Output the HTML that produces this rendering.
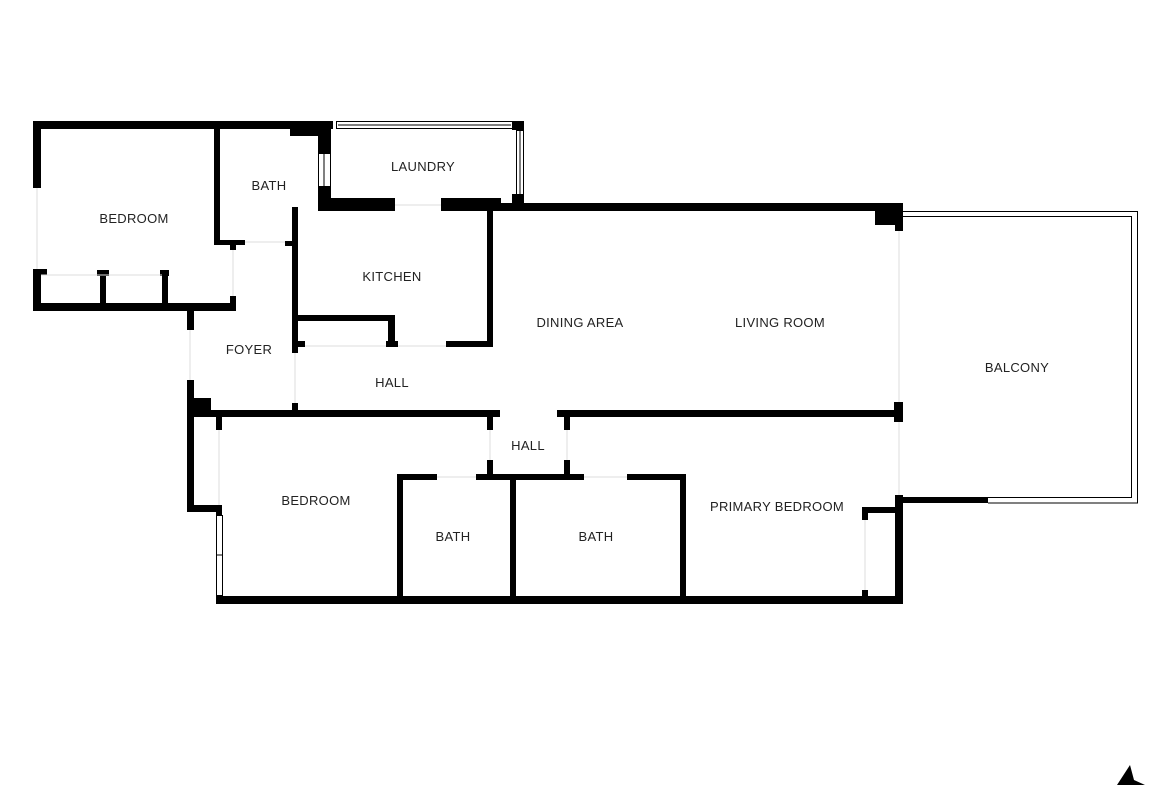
<!DOCTYPE html>
<html><head><meta charset="utf-8"><style>
html,body{margin:0;padding:0;background:#fff}
svg text{font-family:"Liberation Sans",sans-serif;font-size:13px;fill:#222;text-anchor:middle;letter-spacing:0.3px}
</style></head><body>
<svg width="1170" height="785" viewBox="0 0 1170 785" xmlns="http://www.w3.org/2000/svg">
<g fill="#000">
<!-- top-left bedroom -->
<rect x="33" y="121" width="300" height="8"/>
<rect x="33" y="121" width="8" height="67"/>
<rect x="33" y="269" width="8" height="42"/>
<rect x="33" y="303" width="203" height="8"/>
<rect x="33" y="269" width="14" height="6"/>
<rect x="100" y="270" width="6" height="33"/><rect x="97" y="270" width="12" height="6"/>
<rect x="162" y="270" width="6" height="33"/><rect x="160" y="270" width="9" height="6"/>
<rect x="230" y="296" width="6" height="15"/>
<!-- bath -->
<rect x="214" y="129" width="6" height="116"/>
<rect x="214" y="240" width="31" height="5"/>
<rect x="230" y="240" width="6" height="10"/>
<rect x="290" y="129" width="28" height="7"/>
<rect x="318" y="121" width="13" height="32"/>
<rect x="318" y="186" width="13" height="24"/>
<rect x="285" y="241" width="13" height="5"/>
<!-- laundry -->
<rect x="512" y="121" width="12" height="9"/>
<rect x="512" y="194" width="12" height="10"/>
<rect x="318" y="198" width="77" height="13"/>
<rect x="441" y="198" width="60" height="13"/>
<rect x="441" y="203" width="462" height="8"/>
<!-- kitchen -->
<rect x="292" y="207" width="6" height="146"/>
<rect x="292" y="315" width="103" height="6"/>
<rect x="388" y="315" width="7" height="32"/><rect x="386" y="341" width="12" height="6"/>
<rect x="292" y="341" width="13" height="6"/>
<rect x="487" y="207" width="6" height="140"/>
<rect x="446" y="341" width="47" height="6"/>
<!-- right corner -->
<rect x="875" y="203" width="28" height="22"/>
<rect x="895" y="203" width="8" height="28"/>
<rect x="894" y="402" width="9" height="20"/>
<rect x="895" y="495" width="8" height="109"/>
<rect x="903" y="497" width="85" height="6"/>
<!-- foyer -->
<rect x="187" y="311" width="7" height="19"/>
<rect x="187" y="380" width="7" height="132"/>
<rect x="187" y="398" width="24" height="17"/>
<rect x="187" y="505" width="35" height="7"/>
<rect x="292" y="403" width="6" height="10"/>
<!-- hall wall -->
<rect x="194" y="410" width="306" height="7"/>
<rect x="557" y="410" width="346" height="7"/>
<rect x="487" y="410" width="6" height="20"/>
<rect x="564" y="410" width="6" height="20"/>
<rect x="487" y="460" width="6" height="20"/>
<rect x="564" y="460" width="6" height="20"/>
<!-- lower bedroom -->
<rect x="216" y="417" width="6" height="13"/>
<rect x="216" y="505" width="6" height="10"/>
<rect x="216" y="596" width="687" height="8"/>
<!-- baths -->
<rect x="397" y="474" width="6" height="126"/>
<rect x="397" y="474" width="40" height="6"/>
<rect x="476" y="474" width="108" height="6"/>
<rect x="627" y="474" width="59" height="6"/>
<rect x="510" y="474" width="6" height="126"/>
<rect x="680" y="474" width="6" height="126"/>
<!-- closet -->
<rect x="862" y="507" width="41" height="6"/>
<rect x="862" y="507" width="6" height="13"/>
<rect x="862" y="590" width="6" height="10"/>
</g>
<g fill="none" stroke="#000" stroke-width="1">
<rect x="336.5" y="121.5" width="176" height="7"/>
<line x1="338" y1="125" x2="511" y2="125"/>
<rect x="516.5" y="130.5" width="7" height="64"/>
<line x1="520" y1="131" x2="520" y2="194"/>
<rect x="318.5" y="153.5" width="12" height="33"/>
<line x1="324" y1="154" x2="324" y2="186"/>
<rect x="216.5" y="515.5" width="6" height="80"/>
<line x1="216" y1="555" x2="222" y2="555"/>
<polyline points="903,211.5 1137.5,211.5 1137.5,503 988,503"/>
<polyline points="903,216.5 1131.5,216.5 1131.5,497.5 988,497.5"/>
</g>
<g stroke="#ddd" stroke-width="1">
<line x1="37" y1="188" x2="37" y2="269"/>
<line x1="899" y1="231" x2="899" y2="402"/>
<line x1="899" y1="422" x2="899" y2="495"/>
<line x1="190" y1="330" x2="190" y2="380"/>
<line x1="233" y1="250" x2="233" y2="296"/>
<line x1="245" y1="242" x2="285" y2="242"/>
<line x1="395" y1="205" x2="441" y2="205"/>
<line x1="305" y1="346" x2="386" y2="346"/>
<line x1="398" y1="346" x2="446" y2="346"/>
<line x1="41" y1="275" x2="162" y2="275"/>
<line x1="437" y1="477" x2="476" y2="477"/>
<line x1="584" y1="477" x2="627" y2="477"/>
<line x1="219" y1="430" x2="219" y2="505"/>
<line x1="865" y1="520" x2="865" y2="590"/>
<line x1="295" y1="353" x2="295" y2="403"/>
<line x1="490" y1="430" x2="490" y2="460"/>
<line x1="567" y1="430" x2="567" y2="460"/>
</g>
<text x="134" y="223">BEDROOM</text>
<text x="269" y="190">BATH</text>
<text x="423" y="171">LAUNDRY</text>
<text x="392" y="281">KITCHEN</text>
<text x="249" y="354">FOYER</text>
<text x="392" y="387">HALL</text>
<text x="580" y="327">DINING AREA</text>
<text x="780" y="327">LIVING ROOM</text>
<text x="1017" y="372">BALCONY</text>
<text x="528" y="450">HALL</text>
<text x="316" y="505">BEDROOM</text>
<text x="453" y="541">BATH</text>
<text x="596" y="541">BATH</text>
<text x="777" y="511">PRIMARY BEDROOM</text>
<polygon points="1130,765 1134,780 1145,785 1117,785" fill="#000"/>
</svg>
</body></html>
